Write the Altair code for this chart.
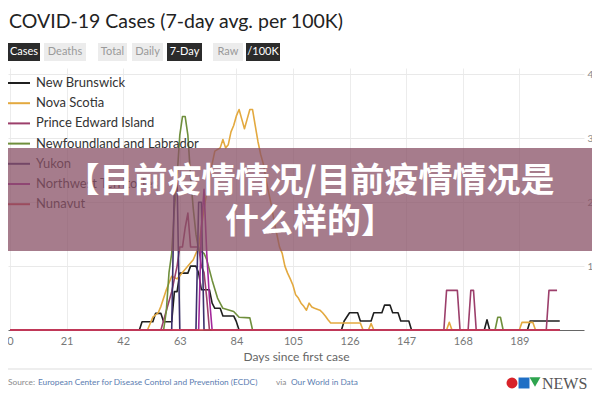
import altair as alt
import pandas as pd

# ---------------- data ----------------
TITLE = "COVID-19 Cases (7-day avg. per 100K)"
BUTTON_LABELS = ["Cases", "Deaths", "Total", "Daily", "7-Day", "Raw", "/100K"]
BUTTON_ON = [True, False, False, False, True, False, True]

SERIES = ["New Brunswick", "Nova Scotia", "Prince Edward Island",
          "Newfoundland and Labrador", "Yukon", "Northwest Territories", "Nunavut"]

NEW_BRUNSWICK = [(0, 0), (48, 0), (49, 0.13), (53, 0.13), (54, 0.26), (56, 0.26), (57, 0.13),
                 (60, 0.13), (61, 0.6), (62, 0.6), (63, 0.89), (66, 0.89), (67, 1.0), (69, 1.0),
                 (70, 0.89), (71, 0.63), (74, 0.63), (75, 0.42), (76, 0.34), (78, 0.34), (79, 0.22),
                 (83, 0.22), (84, 0.13), (85, 0), (123, 0), (124, 0.14), (126, 0.27), (129, 0.27),
                 (130, 0.14), (134, 0.14), (135, 0.27), (138, 0.27), (139, 0.39), (141, 0.39),
                 (142, 0.27), (144, 0.27), (145, 0.14), (148, 0.14), (149, 0), (176, 0), (177, 0.16),
                 (178, 0), (192, 0), (193, 0.14), (204, 0.14)]
NOVA_SCOTIA = [(0, 0), (51, 0), (53, 0.2), (55, 0.27), (56, 0.37), (58, 0.63), (60, 0.84), (62, 0.8),
               (64, 0.9), (66, 1.0), (68, 1.1), (70, 1.3), (72, 1.9), (74, 2.4), (76, 2.8), (78, 2.85),
               (79, 2.98), (80, 2.85), (81, 2.9), (82, 3.1), (83, 3.2), (84, 3.35), (85, 3.45),
               (86, 3.3), (87, 3.15), (88, 3.3), (89, 3.45), (90, 3.45), (91, 3.2), (92, 2.95),
               (93, 2.75), (94, 2.6), (95, 2.35), (96, 2.15), (97, 1.95), (98, 1.7), (99, 1.5),
               (100, 1.3), (101, 1.2), (102, 1.0), (103, 0.89), (104, 0.8), (105, 0.7), (106, 0.55),
               (107, 0.5), (108, 0.42), (109, 0.37), (110, 0.31), (111, 0.42), (112, 0.36),
               (113, 0.34), (115, 0.31), (116, 0.27), (117, 0.22), (118, 0.16), (119, 0.11),
               (130, 0.11), (131, 0), (133, 0), (134, 0.1), (135, 0), (162, 0), (163, 0.12),
               (164, 0), (189, 0), (190, 0.12), (194, 0.12), (195, 0), (204, 0)]
PRINCE_EDWARD_ISLAND = [(0, 0), (56, 0), (58, 0.3), (60, 0.6), (62, 1.0), (63, 1.3), (64, 1.3),
                        (65, 1.6), (66, 1.83), (67, 1.3), (70, 1.3), (71, 1.0), (72, 0.9), (73, 0.5),
                        (74, 0), (161, 0), (162, 0.62), (166, 0.62), (167, 0), (170, 0), (171, 0.62),
                        (172, 0.62), (173, 0), (199, 0), (200, 0.62), (203, 0.62)]
NEWFOUNDLAND = [(0, 0), (57, 0), (58, 0.3), (59, 0.9), (60, 1.2), (61, 1.9), (62, 2.4), (63, 3.05),
                (64, 3.34), (65, 3.34), (66, 3.05), (67, 2.4), (68, 1.9), (69, 1.5), (70, 1.25),
                (72, 1.2), (73, 1.1), (75, 0.78), (77, 0.5), (79, 0.34), (83, 0.29), (85, 0.2),
                (89, 0.19), (90, 0), (180, 0), (181, 0.2), (182, 0.2), (183, 0), (204, 0)]
YUKON = [(0, 0), (60, 0), (61, 2.35), (62, 2.35), (63, 0), (69, 0), (70, 2.0), (71, 2.0), (72, 0),
         (204, 0)]
NORTHWEST_TERRITORIES = [(0, 0), (70, 0), (71, 1.6), (72, 2.2), (73, 1.2), (74, 0.5), (75, 0),
                         (204, 0)]
NUNAVUT = [(0, 0), (204, 0)]

X_TICKS = [0, 21, 42, 63, 84, 105, 126, 147, 168, 189]
Y_TICKS = [1, 2, 3, 4]
X_TITLE = "Days since first case"
SOURCE_PARTS = ["Source:", "European Center for Disease Control and Prevention (ECDC)",
                "via", "Our World in Data"]
BANNER_LINES = ["【目前疫情情况/目前疫情情况是", "什么样的】"]
LOGO_WORD = "NEWS"

# ---------------- styles / layout ----------------
COLORS = ["#1f1f1f", "#e3a93f", "#9c3f6b", "#6f8f3c", "#3b2f6b", "#a3289b", "#d23c47"]
FONT = "Lato"
CJK = "Noto Sans CJK SC"
W, H = 576, 262

BTN_X0 = [0, 36, 90, 124, 159, 205, 238]
BTN_X1 = [32, 78, 119, 155, 194, 235, 272]
SRC_X = [0, 30, 268, 283]
SRC_C = ["#8a8a8a", "#5b7db1", "#8a8a8a", "#5b7db1"]

DATA = [NEW_BRUNSWICK, NOVA_SCOTIA, PRINCE_EDWARD_ISLAND, NEWFOUNDLAND, YUKON,
        NORTHWEST_TERRITORIES, NUNAVUT]

rows = []
for name, pts in zip(SERIES, DATA):
    for d, v in pts:
        rows.append({"series": name, "day": d, "value": v})
df = pd.DataFrame(rows)

one = pd.DataFrame({"a": [0]})
color_scale = alt.Scale(domain=SERIES, range=COLORS)

lines = alt.Chart(df).mark_line(strokeWidth=1.6, strokeJoin="round").encode(
    x=alt.X("day:Q", scale=alt.Scale(domain=[-0.75, 213], nice=False, zero=False),
            axis=alt.Axis(values=X_TICKS, grid=True, gridColor="#ececec", ticks=False,
                          domainColor="#666", labelColor="#777", labelFont=FONT,
                          labelFontSize=11, labelPadding=5, labelFlush=False,
                          title=X_TITLE, titleFont=FONT, titleFontSize=12,
                          titleFontWeight="normal", titleColor="#666", titlePadding=5)),
    y=alt.Y("value:Q", scale=alt.Scale(domain=[0, 4.1], nice=False),
            axis=alt.Axis(orient="right", values=Y_TICKS, grid=True, gridColor="#e9e9e9",
                          ticks=False, domain=False, labelColor="#888", labelFont=FONT,
                          labelFontSize=10, labelPadding=3, title=None)),
    color=alt.Color("series:N", scale=color_scale, legend=None),
)

leg_df = pd.DataFrame({"series": SERIES, "ly": [15 + i * 20.2 for i in range(len(SERIES))]})
leg_lines = alt.Chart(leg_df).mark_rule(strokeWidth=2).encode(
    x=alt.value(-3), x2=alt.value(22),
    y=alt.Y("ly:Q", scale=None, axis=None),
    color=alt.Color("series:N", scale=color_scale, legend=None),
)
leg_text = alt.Chart(leg_df).mark_text(align="left", baseline="middle", font=FONT,
                                       fontSize=13, color="#333").encode(
    x=alt.value(28), y=alt.Y("ly:Q", scale=None, axis=None), text="series:N")

title = alt.Chart(one).mark_text(align="left", baseline="middle", font=FONT, fontSize=19.5,
                                 color="#222", text=TITLE).encode(
    x=alt.value(1), y=alt.value(-46))

btn_df = pd.DataFrame({"label": BUTTON_LABELS, "on": BUTTON_ON, "bx0": BTN_X0, "bx1": BTN_X1})
btn_df["bc"] = (btn_df["bx0"] + btn_df["bx1"]) / 2
btn_rect = alt.Chart(btn_df).mark_rect().encode(
    x=alt.X("bx0:Q", scale=None, axis=None), x2="bx1:Q",
    y=alt.value(-25), y2=alt.value(-7),
    color=alt.condition("datum.on", alt.value("#2b2b2b"), alt.value("#ececec")),
)
btn_text = alt.Chart(btn_df).mark_text(align="center", baseline="middle", font=FONT,
                                       fontSize=11).encode(
    x=alt.X("bc:Q", scale=None, axis=None), y=alt.value(-16), text="label:N",
    color=alt.condition("datum.on", alt.value("#ffffff"), alt.value("#9a9a9a")),
)

sep = alt.Chart(one).mark_rule(color="#dddddd", strokeWidth=1).encode(
    x=alt.value(-8), x2=alt.value(592), y=alt.value(301))

src_df = pd.DataFrame({"t": SOURCE_PARTS, "sx": SRC_X, "c": SRC_C})
src = alt.Chart(src_df).mark_text(align="left", baseline="middle", font=FONT,
                                  fontSize=8.3).encode(
    x=alt.X("sx:Q", scale=None, axis=None), y=alt.value(315), text="t:N",
    color=alt.Color("c:N", scale=None, legend=None))

logo_c = alt.Chart(one).mark_point(shape="circle", filled=True, size=120, color="#d8232a",
                                   opacity=1).encode(x=alt.value(504), y=alt.value(315))
logo_t = alt.Chart(one).mark_point(shape="square", filled=True, size=120, color="#1f6fc5",
                                   opacity=1).encode(x=alt.value(516), y=alt.value(315))
logo_v = alt.Chart(one).mark_point(shape="triangle-down", filled=True, size=120, color="#2ea44f",
                                   opacity=1).encode(x=alt.value(527), y=alt.value(314))
logo_w = alt.Chart(one).mark_text(align="left", baseline="middle", font="Liberation Serif",
                                  fontSize=16, color="#555", text=LOGO_WORD).encode(
    x=alt.value(534), y=alt.value(316))

banner = alt.Chart(one).mark_rect(color="#885065", opacity=0.75).encode(
    x=alt.value(-8), x2=alt.value(592), y=alt.value(80), y2=alt.value(183))
ban_df = pd.DataFrame({"t": BANNER_LINES, "by": [114, 155]})
ban_text = alt.Chart(ban_df).mark_text(align="center", baseline="middle", font=CJK,
                                       fontSize=34, fontWeight="bold", color="white").encode(
    x=alt.value(302), y=alt.Y("by:Q", scale=None, axis=None), text="t:N")

chart = alt.layer(
    lines, leg_lines, leg_text, title, btn_rect, btn_text, sep, src,
    logo_c, logo_t, logo_v, logo_w, banner, ban_text
).properties(
    width=W, height=H,
    padding={"left": 0, "top": 60, "right": 8, "bottom": 62},
    autosize=alt.AutoSizeParams(type="none"),
    background="white",
).configure_view(stroke=None)

chart.save("out.html", embed_options={"renderer": "svg", "actions": False})
